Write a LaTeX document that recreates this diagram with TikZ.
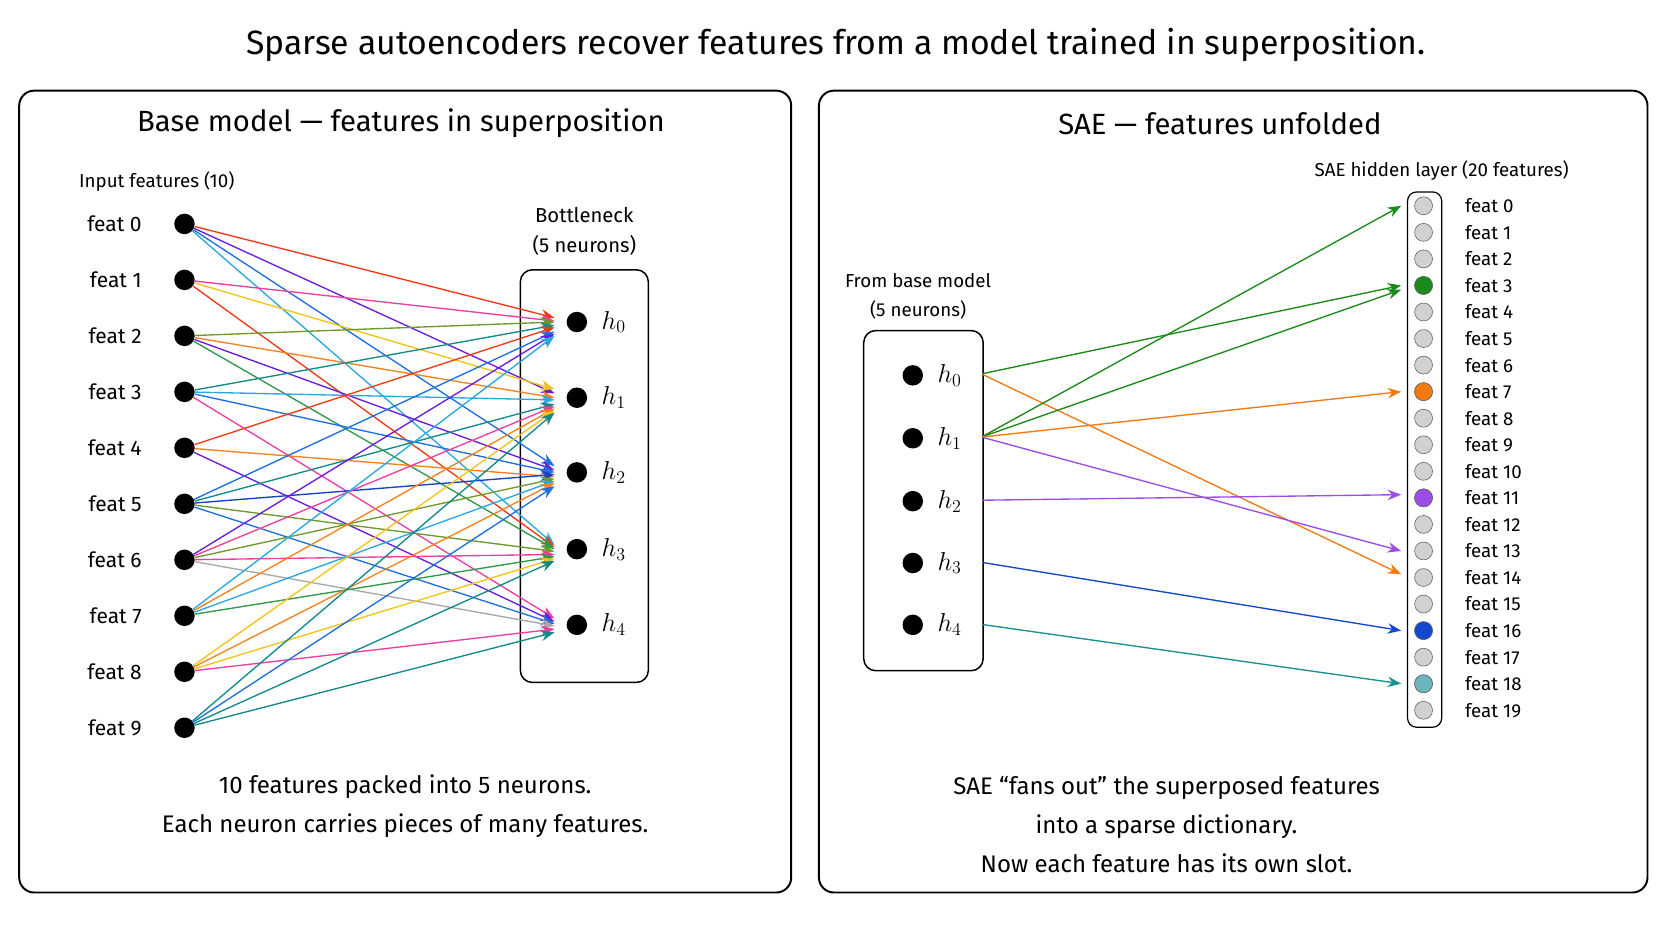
\documentclass[tikz,border=0pt]{standalone}
\usepackage{fontspec}
\setmainfont{Fira Sans}
\usetikzlibrary{positioning, arrows.meta, calc}
\tikzset{
panel/.style={draw, line width=1.3pt, rounded corners=10pt}, % outer frames
dot/.style={circle, fill=black, minimum size=0.48cm, inner sep=0pt},
slot/.style={circle, draw=black!60, fill=black!18, minimum size=0.42cm, inner sep=0pt},
conn/.style={-{Stealth[length=9pt,width=7pt]}, line width=0.9pt},
}
\definecolor{cred}{HTML}{F03A17}\definecolor{cviolet}{HTML}{6A1DE0}
\definecolor{cblue}{HTML}{1E6FE0}\definecolor{cpink}{HTML}{EE3FA0}
\definecolor{cyellow}{HTML}{F2C417}\definecolor{corange}{HTML}{F7821B}
\definecolor{colive}{HTML}{6E9A2A}\definecolor{cgreen}{HTML}{2E9A4A}
\definecolor{cteal}{HTML}{138A8A}\definecolor{csky}{HTML}{2AA8E0}
\definecolor{cgray}{HTML}{A8A8A8}\definecolor{cdblue}{HTML}{1540C8}
\definecolor{sgreen}{HTML}{1A8A1A}\definecolor{sorange}{HTML}{F47A10}
\definecolor{spurple}{HTML}{9B4DE8}\definecolor{sblue}{HTML}{1248D0}
\definecolor{steal}{HTML}{1A9090}\definecolor{slteal}{HTML}{6BB5BE}
\begin{document}
\begin{tikzpicture}[x=0.025cm, y=-0.025cm]
\useasboundingbox (0,0) rectangle (1568,882.5);
\node[font=\fontsize{22.5}{27}\selectfont] (title) at (784,42) {Sparse autoencoders recover features from a model trained in superposition.};

% left panel
\draw[panel] (18,85) rectangle (742,837);
\node[font=\fontsize{19.5}{24}\selectfont] (ltitle) at (376,116) {Base model --- features in superposition};
\node[font=\fontsize{12.5}{15}\selectfont] (inlab) at (147,170) {Input features (10)};
\foreach \i in {0,...,9} {
  \node[dot] (f\i) at (173,{210+52.5*\i}) {};
  \node[left=18pt of f\i, font=\fontsize{14}{17}\selectfont] {feat \i};
}
\node[align=center, font=\fontsize{13.5}{20}\selectfont] (bnlab) at (548,217) {Bottleneck\\(5 neurons)};
\draw[line width=1pt, rounded corners=8pt] (488,253) rectangle (608,640);
\foreach \j/\y in {0/302,1/373,2/443,3/515,4/586} {
  \node[dot] (h\j) at (541,\y) {};
  \node[right=6pt of h\j, font=\fontsize{17}{20}\selectfont] {$h_\j$};
}
\foreach \a/\b/\c/\d in {
  0/0/cred/-4, 0/1/cviolet/-4, 0/2/cblue/-6, 0/3/csky/-4,
  1/0/cpink/-1, 1/1/cyellow/-8, 1/3/cred/-2,
  2/0/colive/0, 2/1/corange/0, 2/2/cviolet/-2, 2/3/cgreen/0,
  3/0/cteal/3, 3/1/csky/2, 3/2/cblue/0, 3/4/cpink/-6,
  4/0/cred/5, 4/2/corange/4, 4/4/cviolet/-3,
  5/0/cblue/9, 5/1/cteal/6, 5/2/cdblue/2, 5/3/colive/2, 5/4/cblue/-1,
  6/0/cviolet/11, 6/1/cpink/8, 6/2/colive/6, 6/3/cpink/5, 6/4/cgray/1,
  7/0/csky/13, 7/1/corange/10, 7/2/csky/8, 7/3/cgreen/7,
  8/1/cyellow/12, 8/2/corange/10, 8/3/cyellow/9, 8/4/cpink/4,
  9/1/cteal/14, 9/2/cblue/13, 9/3/cteal/11, 9/4/cteal/7} {
  \coordinate (e\a\b) at ($(h\b)+(-21,\d)$);
  \draw[conn, draw=\c] (f\a) -- (e\a\b);
}
\node[align=center, font=\fontsize{16}{26}\selectfont] (lcap) at (380,756) {10 features packed into 5 neurons.\\Each neuron carries pieces of many features.};

% right panel
\draw[panel] (768,85) rectangle (1545,837);
\node[font=\fontsize{19.5}{24}\selectfont] (rtitle) at (1144,116) {SAE --- features unfolded};
\node[font=\fontsize{12.5}{15}\selectfont] (saelab) at (1352,160) {SAE hidden layer (20 features)};
\draw[line width=0.8pt, rounded corners=6pt] (1320,180) rectangle (1352,682);
\foreach \k in {0,...,19} {
  \node[slot] (s\k) at (1335,{193+24.9*\k}) {};
  \node[right=18pt of s\k, font=\fontsize{12.5}{15}\selectfont] {feat \k};
}
\foreach \k/\c in {3/sgreen,7/sorange,11/spurple,16/sblue,18/slteal}
  \node[slot, fill=\c] at (s\k) {};
\node[align=center, font=\fontsize{12.5}{19}\selectfont] (fromlab) at (861,278) {From base model\\(5 neurons)};
\draw[line width=1pt, rounded corners=8pt] (810,310) rectangle (922,629);
\foreach \j/\y in {0/352,1/411,2/470,3/528,4/586} {
  \node[dot] (g\j) at (856,\y) {};
  \node[right=6pt of g\j, font=\fontsize{17}{20}\selectfont] {$h_\j$};
  \coordinate (o\j) at (922,\y);
}
\foreach \j/\k/\c/\d in {0/3/sgreen/0, 0/14/sorange/-3, 1/0/sgreen/0, 1/3/sgreen/4,
  1/7/sorange/0, 1/13/spurple/0, 2/11/spurple/-3, 3/16/sblue/0, 4/18/steal/0} {
  \coordinate (t\j\k) at ($(s\k)+(-21,\d)$);
  \draw[conn, draw=\c] ($(o\j)+(0,{-2+\k*0.1})$) -- (t\j\k);
}
\node[align=center, font=\fontsize{16}{26}\selectfont] (rcap) at (1094,773) {SAE ``fans out'' the superposed features\\into a sparse dictionary.\\Now each feature has its own slot.};
\end{tikzpicture}
\end{document}
